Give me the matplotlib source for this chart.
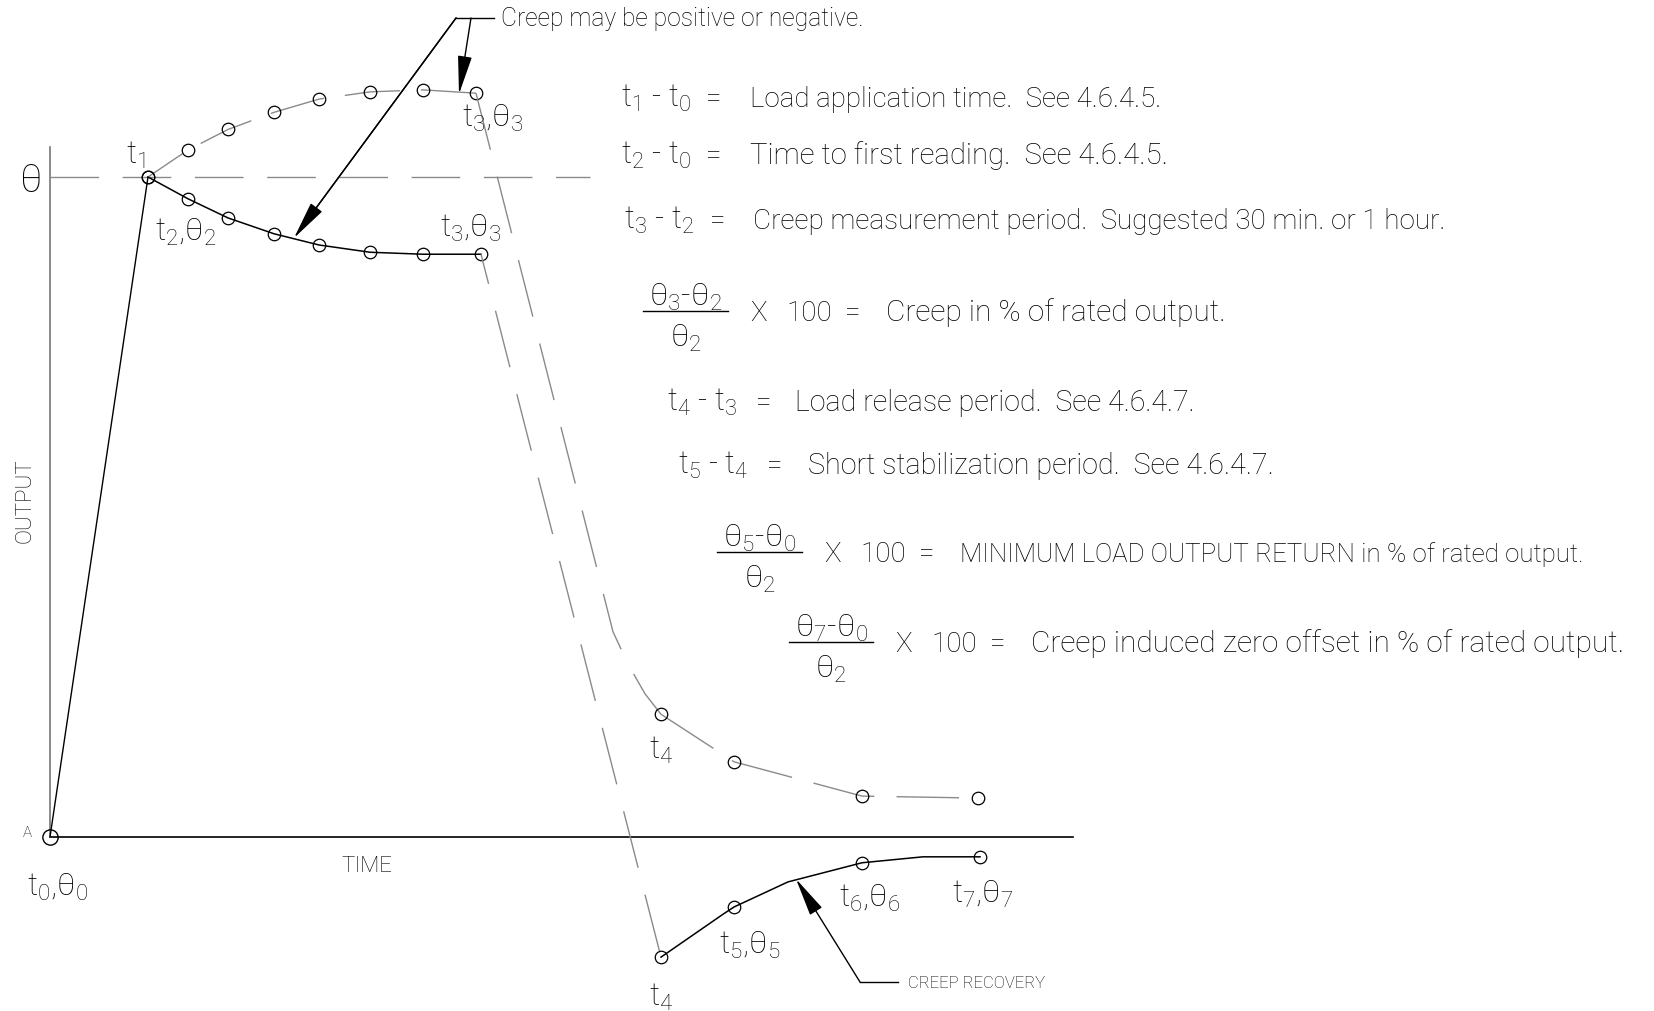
import matplotlib
matplotlib.use("Agg")
import matplotlib.pyplot as plt

plt.rcParams['font.family'] = ['Roboto', 'DejaVu Sans']
plt.rcParams['font.weight'] = 'light'
plt.rcParams['mathtext.fontset'] = 'custom'
plt.rcParams['mathtext.default'] = 'regular'
plt.rcParams['lines.scale_dashes'] = False

# sketch values: time in arbitrary units, output with theta = 100
t_load = [0, 9.8]
out_load = [0, 100]

t_creep_pos = [9.8, 13.8, 17.8, 22.4, 26.9, 32.0, 37.3, 42.6]
out_creep_pos = [100, 104.1, 107.2, 109.8, 111.8, 112.9, 113.2, 112.7]
t_creep_neg = [9.8, 13.8, 17.8, 22.4, 26.9, 32.0, 37.3, 43.1]
out_creep_neg = [100, 96.7, 93.8, 91.4, 89.7, 88.6, 88.3, 88.3]

t_drop_pos = [42.6, 56.3, 57.8, 59.5, 61.1]
out_drop_pos = [112.7, 31.1, 26.2, 21.7, 18.6]
t_drop_neg = [43.1, 61.1]
out_drop_neg = [88.3, -18.2]

t_rec_pos = [61.1, 68.4, 81.2, 92.8]
out_rec_pos = [18.6, 11.4, 6.2, 5.9]
t_rec_neg = [61.1, 67.3, 68.4, 73.8, 81.2, 87.3, 93.0]
out_rec_neg = [-18.2, -11.7, -10.6, -6.8, -3.9, -3.0, -3.0]
rec_neg_marks = [0, 2, 4, 6]

theta_level = 100
t_axis_end = 102.3
out_axis_top = 104.5
t_theta_end = 54.0

# notes on the right
note_lhs = ['t$_1$ - t$_0$', 't$_2$ - t$_0$', 't$_3$ - t$_2$', 't$_4$ - t$_3$', 't$_5$ - t$_4$']
note_text = ['Load application time.  See 4.6.4.5.',
             'Time to first reading.  See 4.6.4.5.',
             'Creep measurement period.  Suggested 30 min. or 1 hour.',
             'Load release period.  See 4.6.4.7.',
             'Short stabilization period.  See 4.6.4.7.']
frac_num = ['θ$_3$-θ$_2$', 'θ$_5$-θ$_0$', 'θ$_7$-θ$_0$']
frac_den = ['θ$_2$', 'θ$_2$', 'θ$_2$']
frac_text = ['Creep in % of rated output.',
             'MINIMUM LOAD OUTPUT RETURN in % of rated output.',
             'Creep induced zero offset in % of rated output.']

W, H = 1654, 1012
fig = plt.figure(figsize=(W / 100, H / 100), dpi=100)
ax = fig.add_axes([0, 0, 1, 1])
ax.set_xlim(-5, 160.4)
ax.set_ylim(-26.36, 126.97)
ax.axis('off')
renderer = fig.canvas.get_renderer()


def px(x, y):
    return x / W, 1 - y / H


def txt(x, y, s, size=20, **kw):
    kw.setdefault('ha', 'center')
    kw.setdefault('va', 'center')
    return ax.text(*px(x, y), s, fontsize=size, transform=ax.transAxes,
                   color='black', **kw)


def fit(t, width, lo=18, hi=21.5):
    # stretch a line of text to the span it has in the drawing
    w = t.get_window_extent(renderer).width
    t.set_fontsize(min(hi, max(lo, t.get_fontsize() * width / w)))


def seg(x1, y1, x2, y2):
    ax.plot([x1 / W, x2 / W], [1 - y1 / H, 1 - y2 / H], transform=ax.transAxes,
            color='black', lw=1.0)


def arrow(x1, y1, x2, y2):
    ax.annotate('', xy=px(x2, y2), xytext=px(x1, y1), xycoords='axes fraction',
                arrowprops=dict(arrowstyle='-|>,head_length=1.2,head_width=0.22',
                                mutation_scale=20, color='black', lw=1.0,
                                shrinkA=0, shrinkB=0))


gray = '#8a8a8a'

# axes
ax.plot([0, t_axis_end], [0, 0], color='black', lw=1.2)
ax.plot([0, 0], [0, out_axis_top], color='#777777', lw=1.2)
ax.plot([0, t_theta_end], [theta_level, theta_level], color=gray, lw=1.0,
        linestyle=(0, (35, 17)))

# load application
ax.plot(t_load, out_load, color='black', lw=1.0)
ax.plot([0], [0], marker='o', ms=11, mfc='none', mec='black', mew=1.0)

# creep
ax.plot(t_creep_pos, out_creep_pos, color=gray, lw=1.0, linestyle=(10, (40, 15)))
ax.plot(t_creep_pos, out_creep_pos, 'o', ms=9, mfc='none', mec='black', mew=0.9)
ax.plot(t_creep_neg, out_creep_neg, color='black', lw=1.1, marker='o', ms=9,
        mfc='none', mec='black', mew=0.9)

# release
ax.plot(t_drop_pos, out_drop_pos, color=gray, lw=1.0, linestyle=(0, (42, 20)))
ax.plot(t_drop_neg, out_drop_neg, color=gray, lw=1.0, linestyle=(20, (42, 20)))

# recovery
ax.plot(t_rec_pos, out_rec_pos, color=gray, lw=1.0, linestyle=(0, (45, 16)))
ax.plot(t_rec_pos, out_rec_pos, 'o', ms=9, mfc='none', mec='black', mew=0.9)
ax.plot(t_rec_neg, out_rec_neg, color='black', lw=1.1, marker='o', ms=9,
        markevery=rec_neg_marks, mfc='none', mec='black', mew=0.9)

# point labels
txt(31, 181, 'θ', size=28)
txt(25, 501, 'OUTPUT', size=16, rotation=90)
txt(27, 833, 'A', size=11)
txt(58, 887, 't$_0$,θ$_0$', size=23)
txt(367, 867, 'TIME', size=16)
txt(136, 155, 't$_1$', size=23)
txt(186, 232, 't$_2$,θ$_2$', size=23)
txt(493, 118, 't$_3$,θ$_3$', size=23)
txt(471, 228, 't$_3$,θ$_3$', size=23)
txt(661, 750, 't$_4$', size=23)
txt(661, 997, 't$_4$', size=23)
txt(750, 945, 't$_5$,θ$_5$', size=23)
txt(870, 898, 't$_6$,θ$_6$', size=23)
txt(983, 894, 't$_7$,θ$_7$', size=23)

# creep callout
seg(456, 19, 494, 19)
seg(456, 19, 305, 224)
arrow(456, 19, 294, 239)
arrow(471, 19, 459, 95)
fit(txt(501, 19, 'Creep may be positive or negative.', size=17, ha='left'), 362, 15, 20)

# creep recovery callout
seg(860, 983, 898, 983)
arrow(860, 983, 796, 880)
txt(908, 983, 'CREEP RECOVERY', size=12, ha='left')

# notes
note_x = [(621, 714, 750), (621, 714, 750), (624, 718, 753), (667, 764, 795), (678, 775, 808)]
note_y = [107, 164, 229, 411, 474]
note_w = [410, 416, 693, 400, 467]
for (x0, xe, xd), yb, w, lhs, desc in zip(note_x, note_y, note_w, note_lhs, note_text):
    fit(txt(x0, yb, lhs, size=21, ha='left', va='baseline'), 70, 19, 23)
    txt(xe, yb, '=', va='baseline')
    fit(txt(xd, yb, desc, ha='left', va='baseline'), w)

frac_bar = [(643, 728, 312), (717, 802, 553), (789, 873, 643)]
frac_w = [346, 622, 610]
for (xa, xb, yb), w, num, den, desc in zip(frac_bar, frac_w, frac_num, frac_den, frac_text):
    xc = (xa + xb) / 2
    seg(xa, yb, xb, yb)
    txt(xc, yb - 15, num, size=23)
    txt(xc, yb + 26, den, size=23)
    txt(xb + 31, yb + 9, 'X', va='baseline')
    txt(xb + 81, yb + 9, '100', va='baseline')
    txt(xb + 125, yb + 9, '=', va='baseline')
    fit(txt(xb + 158, yb + 9, desc, ha='left', va='baseline'), w)

fig.savefig('out.png', dpi=100, facecolor='white')
